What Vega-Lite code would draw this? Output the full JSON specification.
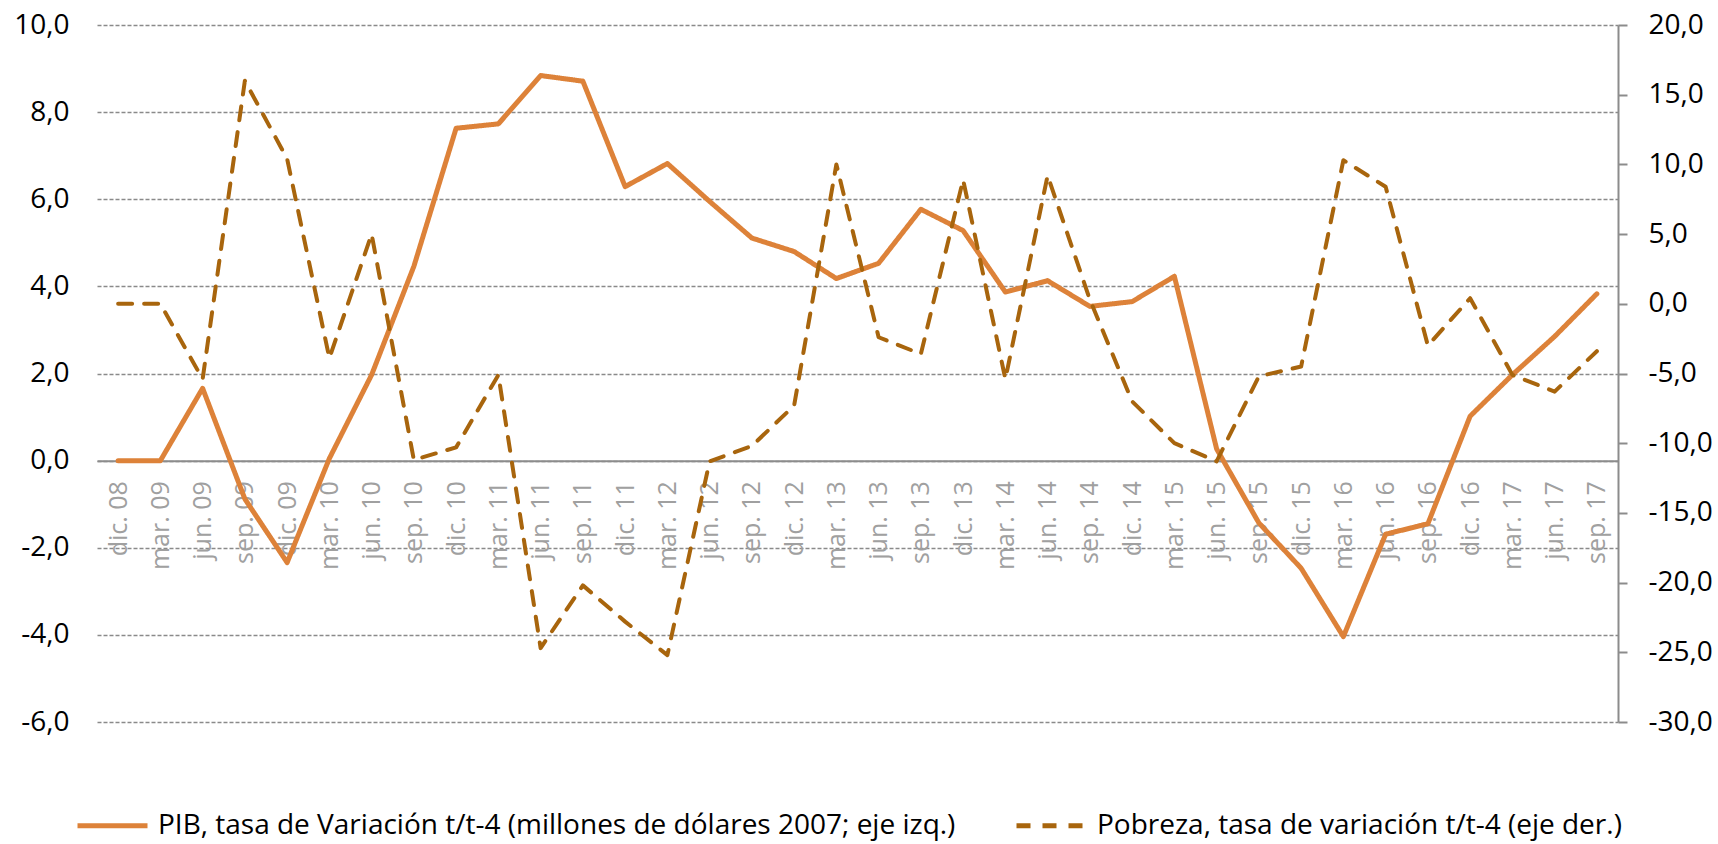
{
  "$schema": "https://vega.github.io/schema/vega-lite/v6.json",
  "width": 1521,
  "height": 697,
  "autosize": {"type": "none"},
  "padding": {"left": 97, "top": 25, "right": 100, "bottom": 122},
  "background": "white",
  "config": {
    "view": {"stroke": null},
    "font": "Open Sans"
  },
  "data": {
    "values": [
      {"trimestre": "dic. 08", "serie": "PIB", "valor": 0.0},
      {"trimestre": "mar. 09", "serie": "PIB", "valor": 0.0},
      {"trimestre": "jun. 09", "serie": "PIB", "valor": 1.66},
      {"trimestre": "sep. 09", "serie": "PIB", "valor": -0.88},
      {"trimestre": "dic. 09", "serie": "PIB", "valor": -2.34},
      {"trimestre": "mar. 10", "serie": "PIB", "valor": 0.05},
      {"trimestre": "jun. 10", "serie": "PIB", "valor": 1.97},
      {"trimestre": "sep. 10", "serie": "PIB", "valor": 4.46},
      {"trimestre": "dic. 10", "serie": "PIB", "valor": 7.63},
      {"trimestre": "mar. 11", "serie": "PIB", "valor": 7.73},
      {"trimestre": "jun. 11", "serie": "PIB", "valor": 8.84},
      {"trimestre": "sep. 11", "serie": "PIB", "valor": 8.71},
      {"trimestre": "dic. 11", "serie": "PIB", "valor": 6.29},
      {"trimestre": "mar. 12", "serie": "PIB", "valor": 6.82},
      {"trimestre": "jun. 12", "serie": "PIB", "valor": 5.95},
      {"trimestre": "sep. 12", "serie": "PIB", "valor": 5.11},
      {"trimestre": "dic. 12", "serie": "PIB", "valor": 4.80},
      {"trimestre": "mar. 13", "serie": "PIB", "valor": 4.18},
      {"trimestre": "jun. 13", "serie": "PIB", "valor": 4.53},
      {"trimestre": "sep. 13", "serie": "PIB", "valor": 5.77},
      {"trimestre": "dic. 13", "serie": "PIB", "valor": 5.28},
      {"trimestre": "mar. 14", "serie": "PIB", "valor": 3.87},
      {"trimestre": "jun. 14", "serie": "PIB", "valor": 4.13},
      {"trimestre": "sep. 14", "serie": "PIB", "valor": 3.54},
      {"trimestre": "dic. 14", "serie": "PIB", "valor": 3.65},
      {"trimestre": "mar. 15", "serie": "PIB", "valor": 4.23},
      {"trimestre": "jun. 15", "serie": "PIB", "valor": 0.27},
      {"trimestre": "sep. 15", "serie": "PIB", "valor": -1.43},
      {"trimestre": "dic. 15", "serie": "PIB", "valor": -2.47},
      {"trimestre": "mar. 16", "serie": "PIB", "valor": -4.04},
      {"trimestre": "jun. 16", "serie": "PIB", "valor": -1.69},
      {"trimestre": "sep. 16", "serie": "PIB", "valor": -1.45},
      {"trimestre": "dic. 16", "serie": "PIB", "valor": 1.02},
      {"trimestre": "mar. 17", "serie": "PIB", "valor": 1.97},
      {"trimestre": "jun. 17", "serie": "PIB", "valor": 2.85},
      {"trimestre": "sep. 17", "serie": "PIB", "valor": 3.83},
      {"trimestre": "dic. 08", "serie": "Pobreza", "valor": 0.0},
      {"trimestre": "mar. 09", "serie": "Pobreza", "valor": 0.0},
      {"trimestre": "jun. 09", "serie": "Pobreza", "valor": -5.4},
      {"trimestre": "sep. 09", "serie": "Pobreza", "valor": 16.0},
      {"trimestre": "dic. 09", "serie": "Pobreza", "valor": 10.4},
      {"trimestre": "mar. 10", "serie": "Pobreza", "valor": -3.9},
      {"trimestre": "jun. 10", "serie": "Pobreza", "valor": 5.0},
      {"trimestre": "sep. 10", "serie": "Pobreza", "valor": -11.2},
      {"trimestre": "dic. 10", "serie": "Pobreza", "valor": -10.3},
      {"trimestre": "mar. 11", "serie": "Pobreza", "valor": -5.1},
      {"trimestre": "jun. 11", "serie": "Pobreza", "valor": -24.7},
      {"trimestre": "sep. 11", "serie": "Pobreza", "valor": -20.2},
      {"trimestre": "dic. 11", "serie": "Pobreza", "valor": -22.8},
      {"trimestre": "mar. 12", "serie": "Pobreza", "valor": -25.2},
      {"trimestre": "jun. 12", "serie": "Pobreza", "valor": -11.3},
      {"trimestre": "sep. 12", "serie": "Pobreza", "valor": -10.2},
      {"trimestre": "dic. 12", "serie": "Pobreza", "valor": -7.3},
      {"trimestre": "mar. 13", "serie": "Pobreza", "valor": 10.0},
      {"trimestre": "jun. 13", "serie": "Pobreza", "valor": -2.4},
      {"trimestre": "sep. 13", "serie": "Pobreza", "valor": -3.6},
      {"trimestre": "dic. 13", "serie": "Pobreza", "valor": 8.9},
      {"trimestre": "mar. 14", "serie": "Pobreza", "valor": -5.4},
      {"trimestre": "jun. 14", "serie": "Pobreza", "valor": 9.2},
      {"trimestre": "sep. 14", "serie": "Pobreza", "valor": 0.3},
      {"trimestre": "dic. 14", "serie": "Pobreza", "valor": -7.0},
      {"trimestre": "mar. 15", "serie": "Pobreza", "valor": -10.0},
      {"trimestre": "jun. 15", "serie": "Pobreza", "valor": -11.3},
      {"trimestre": "sep. 15", "serie": "Pobreza", "valor": -5.2},
      {"trimestre": "dic. 15", "serie": "Pobreza", "valor": -4.5},
      {"trimestre": "mar. 16", "serie": "Pobreza", "valor": 10.3},
      {"trimestre": "jun. 16", "serie": "Pobreza", "valor": 8.4},
      {"trimestre": "sep. 16", "serie": "Pobreza", "valor": -3.0},
      {"trimestre": "dic. 16", "serie": "Pobreza", "valor": 0.4},
      {"trimestre": "mar. 17", "serie": "Pobreza", "valor": -5.1},
      {"trimestre": "jun. 17", "serie": "Pobreza", "valor": -6.3},
      {"trimestre": "sep. 17", "serie": "Pobreza", "valor": -3.4}
    ]
  },
  "encoding": {
    "x": {
      "field": "trimestre",
      "type": "nominal",
      "sort": null,
      "scale": {"padding": 0.5},
      "axis": {
        "title": null,
        "orient": "bottom",
        "offset": -261.375,
        "labelAngle": -90,
        "labelFont": "Open Sans",
        "labelFontSize": 25,
        "labelColor": "#a0a0a0",
        "labelPadding": 20,
        "ticks": false,
        "domain": true,
        "domainColor": "#8c8c8c",
        "domainWidth": 2,
        "grid": false,
        "zindex": 0
      }
    },
    "color": {
      "field": "serie",
      "type": "nominal",
      "scale": {"domain": ["PIB", "Pobreza"], "range": ["#DD8239", "#A8650D"]},
      "legend": {
        "title": null,
        "orient": "none",
        "direction": "horizontal",
        "legendX": -22,
        "legendY": 763,
        "padding": 0,
        "symbolType": "stroke",
        "symbolSize": 4900,
        "symbolStrokeWidth": 5,
        "labelFont": "Open Sans",
        "labelFontSize": 28,
        "labelColor": "#000000",
        "labelLimit": 0,
        "labelOffset": 8,
        "columnPadding": 50,
        "labelExpr": "datum.value == 'PIB' ? 'PIB, tasa de Variación t/t-4 (millones de dólares 2007; eje izq.)' : 'Pobreza, tasa de variación  t/t-4 (eje der.)'"
      }
    },
    "strokeDash": {
      "field": "serie",
      "type": "nominal",
      "scale": {"domain": ["PIB", "Pobreza"], "range": [[1, 0], [14, 12]]},
      "legend": null
    }
  },
  "layer": [
    {
      "transform": [{"filter": "datum.serie == 'PIB'"}],
      "mark": {"type": "line", "strokeWidth": 5, "strokeCap": "round", "strokeJoin": "round"},
      "encoding": {
        "y": {
          "field": "valor",
          "type": "quantitative",
          "scale": {"domain": [-6, 10], "nice": false, "zero": false},
          "axis": {
            "title": null,
            "orient": "left",
            "values": [-6, -4, -2, 0, 2, 4, 6, 8, 10],
            "labelExpr": "(datum.value < 0 ? '-' : '') + replace(format(abs(datum.value), '.1f'), '.', ',')",
            "labelFont": "Open Sans",
            "labelFontSize": 28,
            "labelColor": "#000000",
            "labelPadding": 28,
            "ticks": false,
            "domain": false,
            "grid": true,
            "gridColor": "#8a8a8a",
            "gridWidth": 1.5,
            "gridDash": [4, 2]
          }
        }
      }
    },
    {
      "transform": [{"filter": "datum.serie == 'Pobreza'"}],
      "mark": {"type": "line", "strokeWidth": 4, "strokeCap": "round", "strokeJoin": "round"},
      "encoding": {
        "y": {
          "field": "valor",
          "type": "quantitative",
          "scale": {"domain": [-30, 20], "nice": false, "zero": false},
          "axis": {
            "title": null,
            "orient": "right",
            "values": [-30, -25, -20, -15, -10, -5, 0, 5, 10, 15, 20],
            "labelExpr": "(datum.value < 0 ? '-' : '') + replace(format(abs(datum.value), '.1f'), '.', ',')",
            "labelFont": "Open Sans",
            "labelFontSize": 28,
            "labelColor": "#000000",
            "labelPadding": 21,
            "ticks": true,
            "tickSize": 9,
            "tickColor": "#8c8c8c",
            "tickWidth": 2,
            "domain": true,
            "domainColor": "#8c8c8c",
            "domainWidth": 2,
            "grid": false
          }
        }
      }
    }
  ],
  "resolve": {"scale": {"y": "independent"}}
}
